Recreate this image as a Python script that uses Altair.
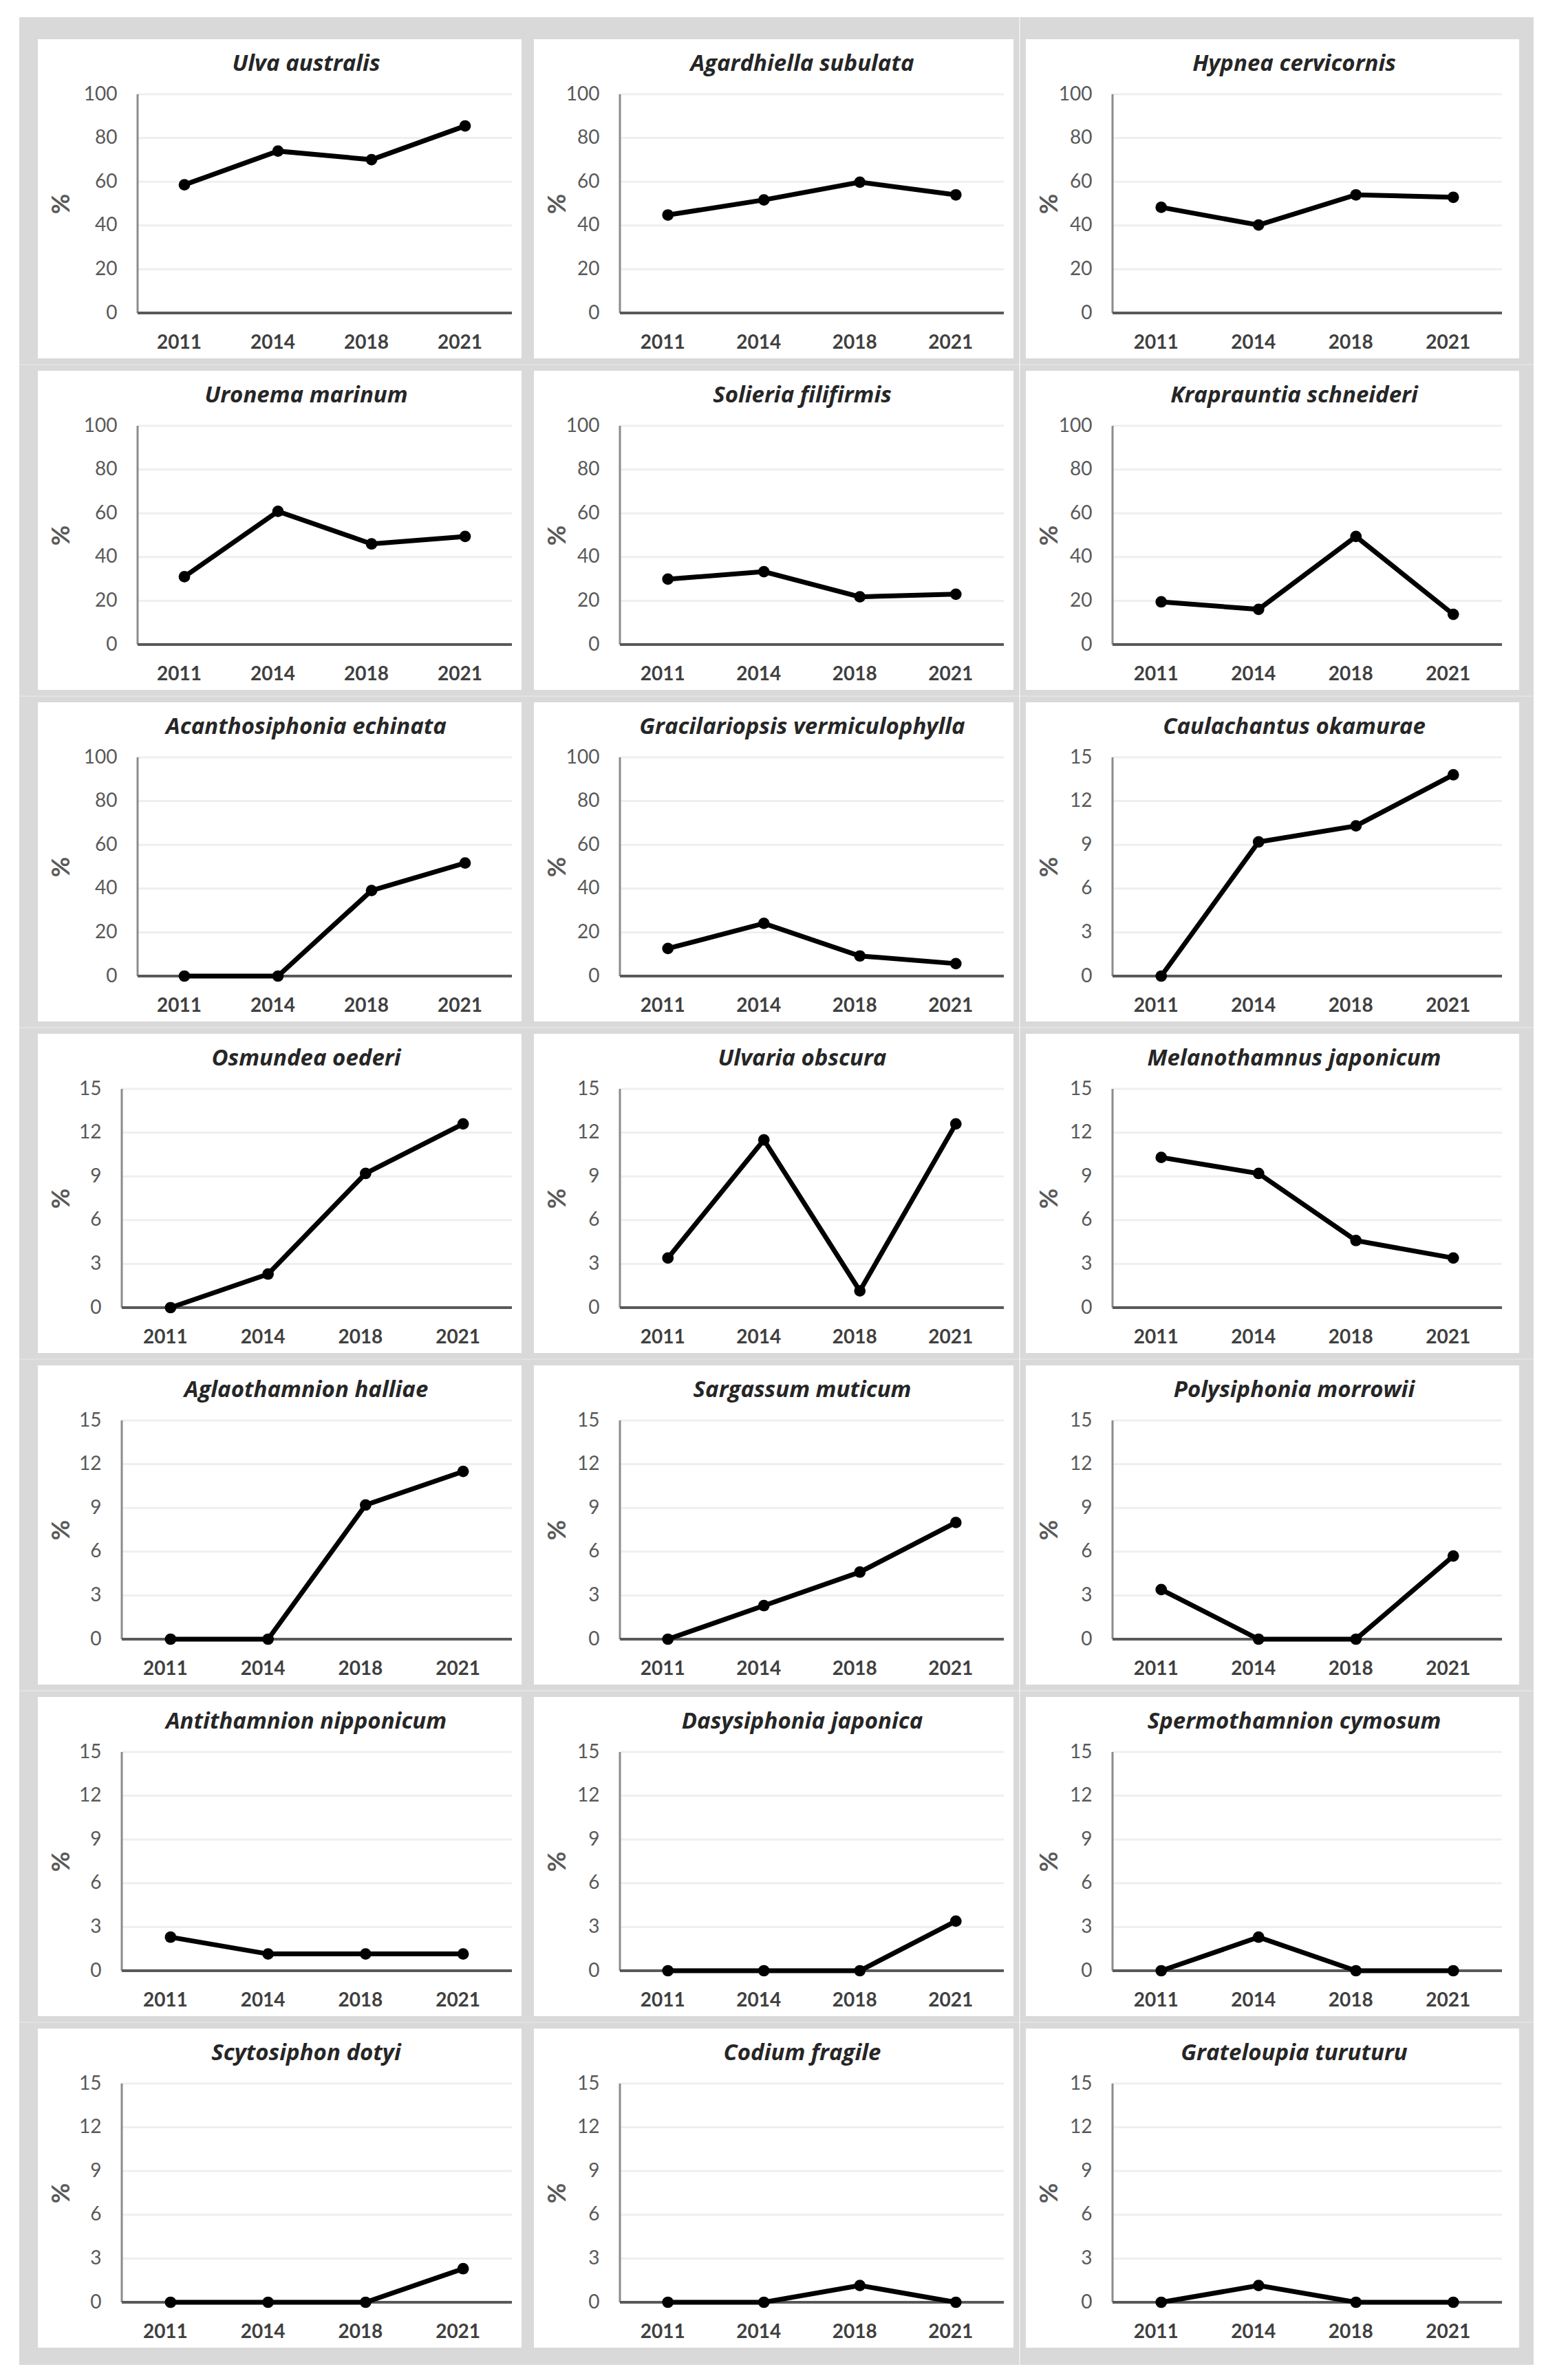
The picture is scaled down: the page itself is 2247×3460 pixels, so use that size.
import altair as alt
import pandas as pd

years = ["2011", "2014", "2018", "2021"]

ulva_australis = [58.6, 74.0, 70.1, 85.5]
agardhiella_subulata = [44.8, 51.7, 59.8, 54.0]
hypnea_cervicornis = [48.3, 40.2, 54.0, 52.9]
uronema_marinum = [31.0, 60.9, 46.0, 49.4]
solieria_filifirmis = [29.9, 33.3, 21.8, 23.0]
kraprauntia_schneideri = [19.5, 16.1, 49.4, 13.8]
acanthosiphonia_echinata = [0.0, 0.0, 39.1, 51.7]
gracilariopsis_vermiculophylla = [12.6, 24.1, 9.2, 5.7]
caulachantus_okamurae = [0.0, 9.2, 10.3, 13.8]
osmundea_oederi = [0.0, 2.3, 9.2, 12.6]
ulvaria_obscura = [3.4, 11.5, 1.15, 12.6]
melanothamnus_japonicum = [10.3, 9.2, 4.6, 3.4]
aglaothamnion_halliae = [0.0, 0.0, 9.2, 11.5]
sargassum_muticum = [0.0, 2.3, 4.6, 8.0]
polysiphonia_morrowii = [3.4, 0.0, 0.0, 5.7]
antithamnion_nipponicum = [2.3, 1.15, 1.15, 1.15]
dasysiphonia_japonica = [0.0, 0.0, 0.0, 3.4]
spermothamnion_cymosum = [0.0, 2.3, 0.0, 0.0]
scytosiphon_dotyi = [0.0, 0.0, 0.0, 2.3]
codium_fragile = [0.0, 0.0, 1.15, 0.0]
grateloupia_turuturu = [0.0, 1.15, 0.0, 0.0]

species_names = [
    "Ulva australis", "Agardhiella subulata", "Hypnea cervicornis",
    "Uronema marinum", "Solieria filifirmis", "Kraprauntia schneideri",
    "Acanthosiphonia echinata", "Gracilariopsis vermiculophylla", "Caulachantus okamurae",
    "Osmundea oederi", "Ulvaria obscura", "Melanothamnus japonicum",
    "Aglaothamnion halliae", "Sargassum muticum", "Polysiphonia morrowii",
    "Antithamnion nipponicum", "Dasysiphonia japonica", "Spermothamnion cymosum",
    "Scytosiphon dotyi", "Codium fragile", "Grateloupia turuturu",
]
species_values = [
    ulva_australis, agardhiella_subulata, hypnea_cervicornis,
    uronema_marinum, solieria_filifirmis, kraprauntia_schneideri,
    acanthosiphonia_echinata, gracilariopsis_vermiculophylla, caulachantus_okamurae,
    osmundea_oederi, ulvaria_obscura, melanothamnus_japonicum,
    aglaothamnion_halliae, sargassum_muticum, polysiphonia_morrowii,
    antithamnion_nipponicum, dasysiphonia_japonica, spermothamnion_cymosum,
    scytosiphon_dotyi, codium_fragile, grateloupia_turuturu,
]

ticks_100 = [0, 20, 40, 60, 80, 100]
ticks_15 = [0, 3, 6, 9, 12, 15]

FONT = "Lato"
TITLE_FONT = "Open Sans"
FRAME = "#d9d9d9"

H = 318
TOP = 80
PANEL_H = 464
BOTTOM = PANEL_H - TOP - H
COL_W = [703, 697, 717]
COL_LEFT = [145, 125, 126]   # group origin offset inside each panel (same for a column)
RIGHT = [14, 14, 25]
GAP_L = [27, 9, 8.5]
GAP_R = [9, 8.5, 21]


def make_panel(i, name, vals):
    row, col = divmod(i, 3)
    big = i < 8
    ticks = ticks_100 if big else ticks_15
    ymax = ticks[-1]
    left_g = COL_LEFT[col]
    left_a = left_g if (col != 0 or big) else 122
    s = left_g - left_a                 # how far the axis sits left of the group origin
    right = RIGHT[col]
    W = COL_W[col] - left_g - right
    gl, gr = GAP_L[col], GAP_R[col]
    gt = 32 if row == 0 else 8.75
    gb = 25 if row == 6 else 8.75

    df = pd.DataFrame({"year": years, "value": vals})
    grid_df = pd.DataFrame({"value": ticks[1:]})
    one = alt.Data(values=[{"k": 0}])

    y_scale = alt.Scale(domain=[0, ymax], nice=False, zero=True)
    y_axis = alt.Axis(
        values=ticks, title="%", domain=False, ticks=False, tickSize=0, grid=False,
        offset=s, labelPadding=30, labelFont=FONT, labelFontSize=28, labelColor="#595959",
        titleFont=FONT, titleFontSize=36, titleFontWeight="bold", titleColor="#595959",
        titleX=-(left_a - 34), titleY=H / 2, titleAngle=270, titleBaseline="middle",
        titleAlign="center", zindex=1,
    )
    x_enc = alt.X(
        "year:O", sort=years,
        scale=alt.Scale(type="point", padding=0.5, domain=years, range=[-s, W]),
        axis=alt.Axis(
            title=None, labelAngle=0, domain=False, ticks=False, tickSize=0, grid=False,
            labelFont=FONT, labelFontSize=28, labelFontWeight="bold", labelColor="#404040",
            labelPadding=29, labelOffset=-8, zindex=1,
        ),
    )
    y_enc = alt.Y("value:Q", scale=y_scale, axis=y_axis)

    gray = alt.Chart(one).mark_rect(color=FRAME).encode(
        x=alt.value(-left_g - gl), x2=alt.value(W + right + gr),
        y=alt.value(-TOP - gt), y2=alt.value(H + BOTTOM + gb),
    )
    white = alt.Chart(one).mark_rect(color="white").encode(
        x=alt.value(-left_g), x2=alt.value(W + right),
        y=alt.value(-TOP), y2=alt.value(H + BOTTOM),
    )
    grid = alt.Chart(grid_df).mark_rule(color="#efefef", strokeWidth=3).encode(
        y=y_enc, x=alt.value(-s), x2=alt.value(W),
    )
    ydom = alt.Chart(one).mark_rule(color="#8c8c8c", strokeWidth=3).encode(
        x=alt.value(-s), y=alt.value(0), y2=alt.value(H),
    )
    xdom = alt.Chart(one).mark_rule(color="#595959", strokeWidth=4).encode(
        x=alt.value(-s), x2=alt.value(W), y=alt.value(H),
    )
    line = alt.Chart(df).mark_line(color="black", strokeWidth=7).encode(x=x_enc, y=y_enc)
    pts = alt.Chart(df).mark_point(filled=True, size=280, color="black", opacity=1).encode(
        x=x_enc, y=y_enc
    )
    title = alt.Chart(one).mark_text(
        text=name, font=TITLE_FONT, fontSize=33, fontStyle="italic", fontWeight="bold",
        color="#262626", align="center", baseline="middle",
    ).encode(x=alt.value(390 - left_g), y=alt.value(-44))

    return alt.layer(gray, white, grid, ydom, xdom, line, pts, title).properties(
        width=W, height=H
    )


panels = [make_panel(i, n, v) for i, (n, v) in enumerate(zip(species_names, species_values))]

chart = alt.concat(*panels, columns=3, spacing=0).properties(
    background="white",
    padding={"left": 20, "top": 17, "right": 5, "bottom": 5},
).configure_view(stroke=None)

chart.save("out.html", embed_options={"renderer": "svg", "actions": False})
